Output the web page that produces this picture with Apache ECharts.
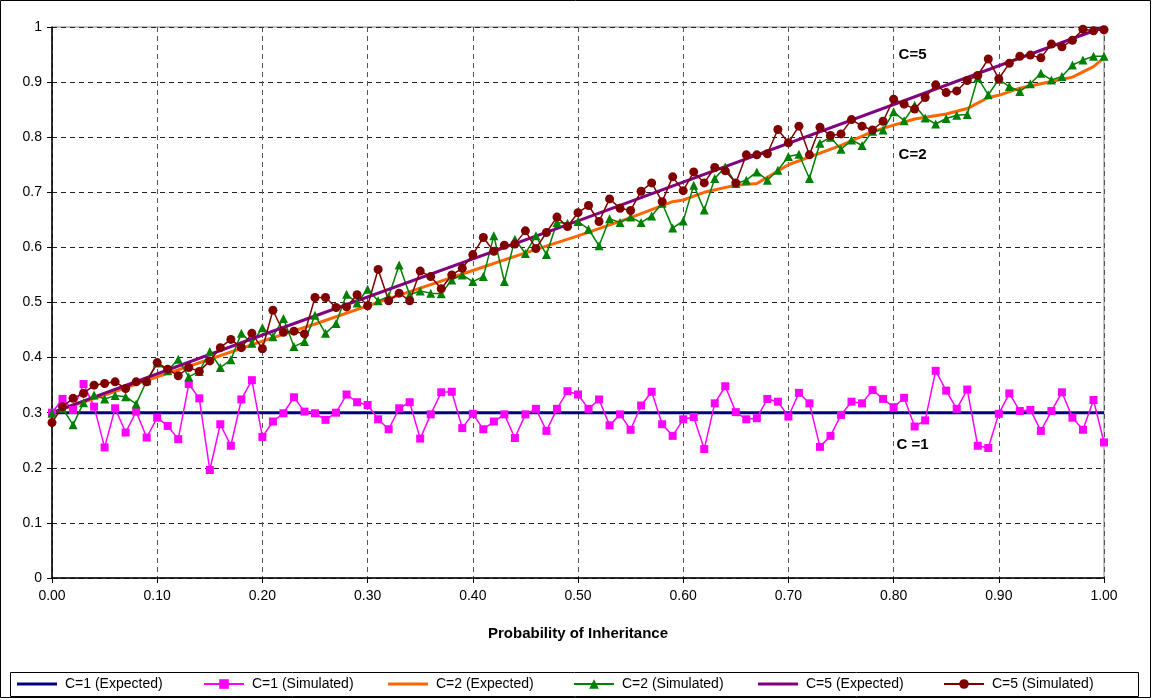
<!DOCTYPE html>
<html>
<head>
<meta charset="utf-8">
<script src="https://cdn.jsdelivr.net/npm/echarts@6/dist/echarts.min.js"></script>
<style>
  html, body { margin: 0; padding: 0; background: #fff; }
  #main { width: 1152px; height: 700px; }
</style>
</head>
<body>
<div id="main"></div>
<script>
// probability of inheritance (x)
var probs = [0.00, 0.01, 0.02, 0.03, 0.04, 0.05, 0.06, 0.07, 0.08, 0.09,
  0.10, 0.11, 0.12, 0.13, 0.14, 0.15, 0.16, 0.17, 0.18, 0.19,
  0.20, 0.21, 0.22, 0.23, 0.24, 0.25, 0.26, 0.27, 0.28, 0.29,
  0.30, 0.31, 0.32, 0.33, 0.34, 0.35, 0.36, 0.37, 0.38, 0.39,
  0.40, 0.41, 0.42, 0.43, 0.44, 0.45, 0.46, 0.47, 0.48, 0.49,
  0.50, 0.51, 0.52, 0.53, 0.54, 0.55, 0.56, 0.57, 0.58, 0.59,
  0.60, 0.61, 0.62, 0.63, 0.64, 0.65, 0.66, 0.67, 0.68, 0.69,
  0.70, 0.71, 0.72, 0.73, 0.74, 0.75, 0.76, 0.77, 0.78, 0.79,
  0.80, 0.81, 0.82, 0.83, 0.84, 0.85, 0.86, 0.87, 0.88, 0.89,
  0.90, 0.91, 0.92, 0.93, 0.94, 0.95, 0.96, 0.97, 0.98, 0.99, 1.00]

// C=1 simulated
var c1Sim = [0.300, 0.325, 0.305, 0.352, 0.311, 0.237, 0.308, 0.264, 0.302, 0.255,
  0.291, 0.276, 0.252, 0.352, 0.326, 0.196, 0.279, 0.240, 0.324, 0.359,
  0.256, 0.284, 0.299, 0.328, 0.302, 0.299, 0.287, 0.300, 0.333, 0.319,
  0.314, 0.288, 0.270, 0.308, 0.319, 0.253, 0.297, 0.337, 0.338, 0.272,
  0.298, 0.270, 0.284, 0.297, 0.254, 0.297, 0.307, 0.267, 0.307, 0.339,
  0.333, 0.307, 0.324, 0.277, 0.297, 0.269, 0.313, 0.338, 0.279, 0.258,
  0.288, 0.292, 0.234, 0.317, 0.348, 0.301, 0.288, 0.290, 0.325, 0.320,
  0.293, 0.336, 0.317, 0.238, 0.258, 0.296, 0.320, 0.317, 0.341, 0.325,
  0.310, 0.327, 0.275, 0.286, 0.376, 0.340, 0.307, 0.342, 0.240, 0.236,
  0.298, 0.335, 0.303, 0.305, 0.267, 0.303, 0.337, 0.291, 0.269, 0.323, 0.246]

// C=2 simulated
var c2Sim = [0.299, 0.308, 0.278, 0.318, 0.332, 0.325, 0.331, 0.329, 0.316, 0.358,
  0.390, 0.376, 0.397, 0.365, 0.375, 0.411, 0.382, 0.396, 0.444, 0.426,
  0.454, 0.438, 0.471, 0.420, 0.429, 0.477, 0.444, 0.462, 0.515, 0.499,
  0.524, 0.503, 0.511, 0.568, 0.514, 0.521, 0.517, 0.516, 0.541, 0.550,
  0.538, 0.547, 0.621, 0.538, 0.615, 0.589, 0.621, 0.587, 0.645, 0.644,
  0.647, 0.633, 0.603, 0.652, 0.645, 0.655, 0.645, 0.657, 0.680, 0.635,
  0.648, 0.713, 0.668, 0.725, 0.746, 0.716, 0.722, 0.737, 0.722, 0.740,
  0.765, 0.769, 0.725, 0.789, 0.800, 0.778, 0.795, 0.785, 0.811, 0.813,
  0.846, 0.830, 0.858, 0.835, 0.824, 0.834, 0.840, 0.841, 0.908, 0.877,
  0.905, 0.892, 0.883, 0.897, 0.916, 0.904, 0.910, 0.931, 0.940, 0.947, 0.947]

// C=5 simulated
var c5Sim = [0.282, 0.311, 0.326, 0.335, 0.350, 0.353, 0.356, 0.344, 0.356, 0.356,
  0.391, 0.379, 0.367, 0.382, 0.375, 0.394, 0.418, 0.433, 0.418, 0.444,
  0.416, 0.486, 0.446, 0.448, 0.443, 0.509, 0.509, 0.491, 0.492, 0.514,
  0.494, 0.560, 0.503, 0.517, 0.503, 0.557, 0.547, 0.525, 0.550, 0.562,
  0.587, 0.618, 0.593, 0.604, 0.606, 0.630, 0.598, 0.627, 0.655, 0.638,
  0.663, 0.676, 0.647, 0.688, 0.671, 0.667, 0.702, 0.717, 0.683, 0.728,
  0.703, 0.737, 0.717, 0.745, 0.739, 0.717, 0.768, 0.768, 0.770, 0.814,
  0.790, 0.820, 0.768, 0.818, 0.803, 0.806, 0.832, 0.820, 0.813, 0.829,
  0.869, 0.860, 0.851, 0.872, 0.895, 0.881, 0.884, 0.903, 0.912, 0.942,
  0.906, 0.934, 0.947, 0.949, 0.944, 0.969, 0.964, 0.976, 0.996, 0.993, 0.995]

// expected curves, read at a few x positions
var c1ExpX = [0, 1]
var c1ExpY = [0.3, 0.3]
var c2ExpX = [0, 0.05, 0.10, 0.15, 0.20, 0.25, 0.30, 0.35, 0.40, 0.45, 0.50, 0.55, 0.59, 0.60,
  0.62, 0.65, 0.67, 0.70, 0.75, 0.78, 0.80, 0.82, 0.85, 0.87, 0.89, 0.90, 0.92, 0.95, 0.97, 0.99, 1.00]
var c2ExpY = [0.300, 0.332, 0.365, 0.397, 0.430, 0.461, 0.494, 0.526, 0.558, 0.590, 0.621, 0.654, 0.683, 0.686,
  0.700, 0.713, 0.716, 0.750, 0.785, 0.810, 0.822, 0.833, 0.842, 0.852, 0.872, 0.876, 0.889, 0.901, 0.909, 0.928, 0.944]
var c5ExpX = [0, 0.2, 0.5, 1]
var c5ExpY = [0.300, 0.441, 0.648, 1.000]

var yTicks = [0, 0.1, 0.2, 0.3, 0.4, 0.5, 0.6, 0.7, 0.8, 0.9, 1]

var names = ['C=1 (Expected)', 'C=1 (Simulated)', 'C=2 (Expected)', 'C=2 (Simulated)', 'C=5 (Expected)', 'C=5 (Simulated)']
var legendLeft = [17, 203, 388, 573, 758, 943]
var plainLine = [true, false, true, false, true, false]

var FONT = '"Liberation Sans", Arial, sans-serif'

function pairs (xs, ys) {
  return xs.map(function (x, i) { return [x, ys[i]] })
}

function noteLabel (text, x, y) {
  return {
    name: text,
    coord: [x, y],
    symbol: 'circle',
    symbolSize: 1,
    itemStyle: { color: 'rgba(0,0,0,0)' },
    label: {
      show: true,
      position: 'inside',
      formatter: '{b}',
      color: '#000',
      fontWeight: 'bold',
      fontSize: 15,
      fontFamily: FONT
    }
  }
}

var chart = echarts.init(document.getElementById('main'))

var option = {
  animation: false,
  backgroundColor: '#fff',
  textStyle: { fontFamily: FONT },
  graphic: [
    {
      type: 'rect',
      shape: { x: 0.5, y: 0.5, width: 1150, height: 697 },
      style: { fill: 'none', stroke: '#000', lineWidth: 1 },
      silent: true
    },
    {
      type: 'rect',
      shape: { x: 10.5, y: 672.5, width: 1128, height: 24 },
      style: { fill: 'none', stroke: '#000', lineWidth: 1 },
      silent: true
    }
  ],
  legend: names.map(function (n, i) {
    return {
      data: plainLine[i] ? [{ name: n, icon: 'rect' }] : [n],
      left: legendLeft[i],
      top: 677,
      padding: 0,
      itemWidth: 40,
      itemHeight: plainLine[i] ? 3 : 12,
      selectedMode: false,
      textStyle: { fontSize: 14, color: '#000', fontFamily: FONT, padding: [0, 0, 0, 3] }
    }
  }),
  grid: {
    left: 52,
    right: 48,
    top: 27,
    bottom: 122,
    show: true,
    borderColor: '#808080',
    borderWidth: 1
  },
  xAxis: {
    type: 'value',
    min: 0,
    max: 1,
    interval: 0.1,
    name: 'Probability of Inheritance',
    nameLocation: 'middle',
    nameGap: 48,
    nameTextStyle: { fontSize: 15, fontWeight: 'bold', color: '#000', fontFamily: FONT },
    axisLine: { show: true, lineStyle: { color: '#000', width: 1.5 } },
    axisTick: { show: true, inside: false, length: 5, lineStyle: { color: '#000' } },
    axisLabel: {
      fontSize: 14,
      color: '#000',
      margin: 11,
      formatter: function (v) { return v.toFixed(2) }
    },
    splitLine: { show: true, lineStyle: { color: '#555', type: [5, 4], width: 1 } }
  },
  yAxis: {
    type: 'value',
    min: 0,
    max: 1,
    interval: 0.1,
    axisLine: { show: true, lineStyle: { color: '#000', width: 1.5 } },
    axisTick: { show: true, inside: false, length: 5, lineStyle: { color: '#000' } },
    axisLabel: {
      fontSize: 14,
      color: '#000',
      margin: 10,
      formatter: function (v) {
        var t = yTicks.find(function (k) { return Math.abs(k - v) < 1e-6 })
        return String(t)
      }
    },
    splitLine: { show: true, lineStyle: { color: '#222', type: [5, 4], width: 1 } }
  },
  series: [
    {
      name: names[0],
      type: 'line',
      data: pairs(c1ExpX, c1ExpY),
      symbol: 'none',
      clip: false,
      lineStyle: { color: '#000080', width: 3 },
      itemStyle: { color: '#000080' },
      markPoint: { data: [noteLabel('C =1', 0.818, 0.241)] }
    },
    {
      name: names[1],
      type: 'line',
      data: pairs(probs, c1Sim),
      symbol: 'rect',
      symbolSize: 8,
      clip: false,
      lineStyle: { color: '#FF00FF', width: 1.5 },
      itemStyle: { color: '#FF00FF' }
    },
    {
      name: names[2],
      type: 'line',
      data: pairs(c2ExpX, c2ExpY),
      symbol: 'none',
      clip: false,
      lineStyle: { color: '#FF6600', width: 3 },
      itemStyle: { color: '#FF6600' },
      markPoint: { data: [noteLabel('C=2', 0.818, 0.768)] }
    },
    {
      name: names[3],
      type: 'line',
      data: pairs(probs, c2Sim),
      symbol: 'triangle',
      symbolSize: 9,
      clip: false,
      lineStyle: { color: '#008000', width: 1.5 },
      itemStyle: { color: '#008000' }
    },
    {
      name: names[4],
      type: 'line',
      data: pairs(c5ExpX, c5ExpY),
      symbol: 'none',
      clip: false,
      lineStyle: { color: '#800080', width: 3 },
      itemStyle: { color: '#800080' },
      markPoint: { data: [noteLabel('C=5', 0.818, 0.95)] }
    },
    {
      name: names[5],
      type: 'line',
      data: pairs(probs, c5Sim),
      symbol: 'circle',
      symbolSize: 9,
      clip: false,
      lineStyle: { color: '#800000', width: 1.5 },
      itemStyle: { color: '#800000' }
    }
  ]
}

chart.setOption(option, true)
</script>
</body>
</html>
